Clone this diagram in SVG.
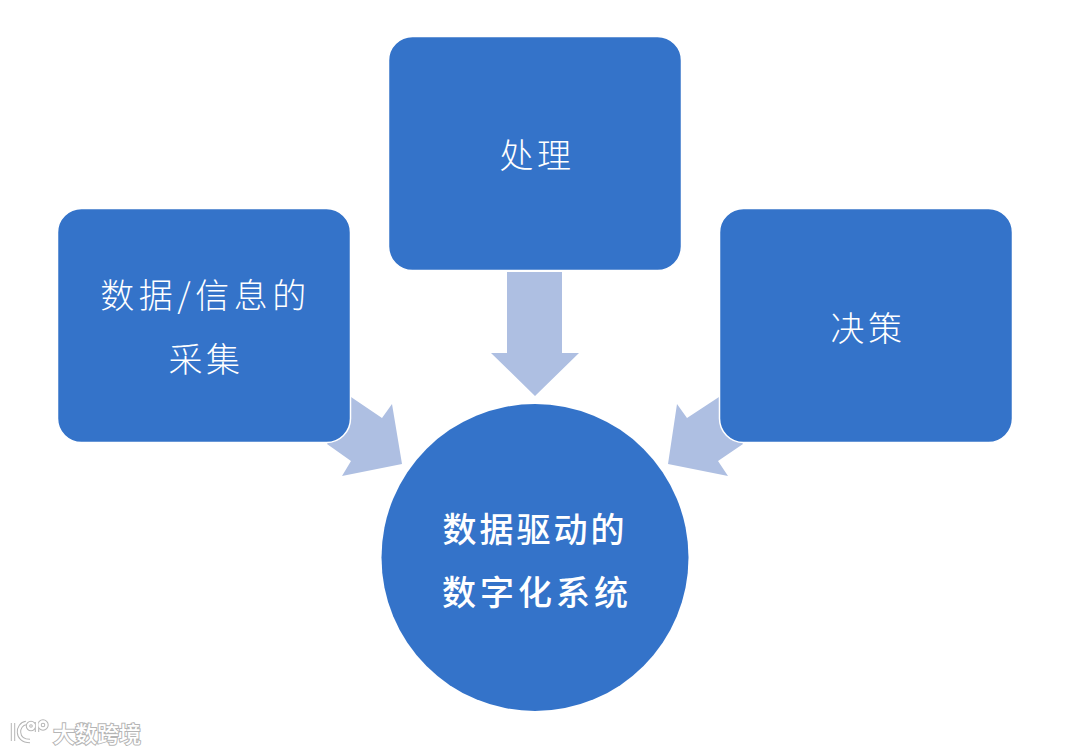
<svg xmlns="http://www.w3.org/2000/svg" width="1080" height="754" viewBox="0 0 1080 754">
<style>
.box{fill:#3473c9;stroke:#fff;stroke-width:1.5}
.arrow{fill:#aebfe2}
text{font-family:"Noto Sans CJK SC","Noto Sans CJK JP",sans-serif;fill:#fff;text-anchor:middle}
.t{font-size:34px;font-weight:300;letter-spacing:3.5px}
.c{font-size:34px;font-weight:500;letter-spacing:3.5px}
.wm{font-size:22px;font-weight:500;fill:#fff;stroke:#b5b5b5;stroke-width:2;paint-order:stroke;text-anchor:start}
.logo{fill:none;stroke:#fff;stroke-width:2.4}
.logoS{fill:none;stroke:#b5b5b5;stroke-width:4.4}
</style>
<rect width="1080" height="754" fill="#fff"/>
<g id="connectors">
<polygon class="arrow" points="351,397 382,418 392,404 402,464 342,476 351,461 327,444 340,420"/>
<polygon class="arrow" points="507,272 562,272 562,353 579,353 535,396 491,353 507,353"/>
<polygon class="arrow" points="719,397 687,418 677,404 668,464 728,476 718,461 743,444 730,420"/>
</g>
<g id="node-collect">
<rect class="box" x="57.5" y="208.5" width="293" height="234" rx="24"/>
<text class="t" x="205.500" y="308" style="letter-spacing:4.500px">数据/信息的</text>
<text class="t" x="206" y="372">采集</text>
</g>
<g id="node-process">
<rect class="box" x="388.5" y="36.500" width="293" height="234" rx="24"/>
<text class="t" x="537" y="168">处理</text>
</g>
<g id="node-decide">
<rect class="box" x="719.5" y="208.500" width="293" height="234" rx="24"/>
<text class="t" x="868" y="341">决策</text>
</g>
<g id="node-system">
<circle cx="535" cy="557.500" r="153.500" fill="#3473c9"/>
<text class="c" x="535" y="542" style="letter-spacing:3px">数据驱动的</text>
<text class="c" x="537" y="605" style="letter-spacing:4px">数字化系统</text>
</g>
<g id="watermark">
<path class="logoS" d="M13 723V741M26 723C17 724 15 741 30 741"/>
<circle class="logoS" cx="31" cy="726" r="3"/><circle class="logoS" cx="43" cy="725" r="3.500"/><path class="logoS" d="M37 722V732"/>
<path class="logo" d="M13 723V741M26 723C17 724 15 741 30 741"/>
<circle class="logo" cx="31" cy="726" r="3"/><circle class="logo" cx="43" cy="725" r="3.500"/><path class="logo" d="M37 722V732"/>
<text class="wm" x="53" y="742">大数跨境</text>
</g>
</svg>
